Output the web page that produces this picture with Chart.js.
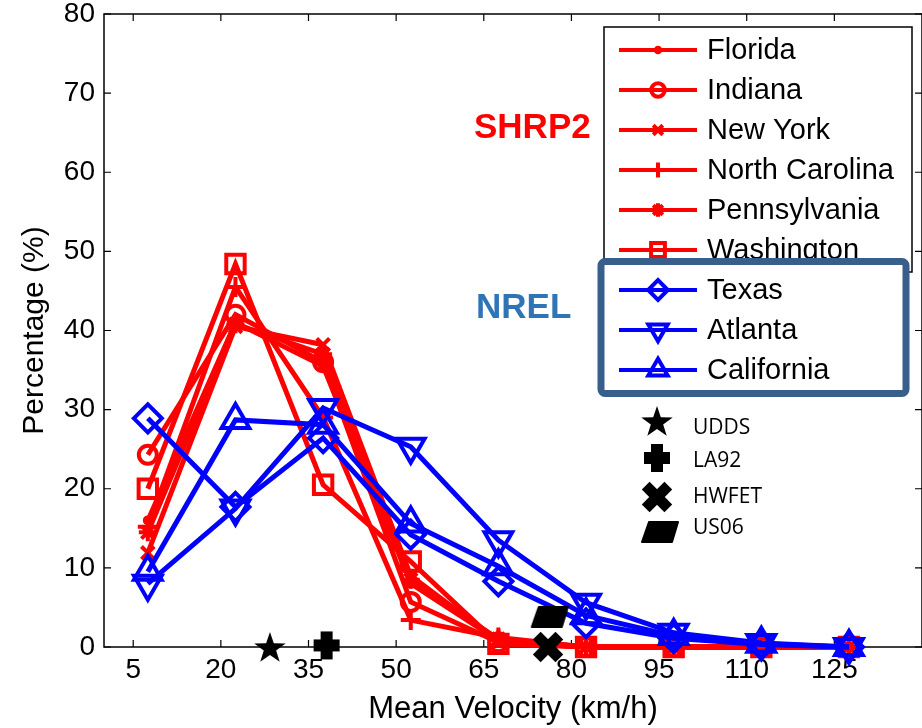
<!DOCTYPE html>
<html>
<head>
<meta charset="utf-8">
<script src="https://cdn.jsdelivr.net/npm/chart.js@4.4.0/dist/chart.umd.min.js"></script>
<style>
  body { margin: 0; background: #fff; }
</style>
</head>
<body>
<canvas id="chart" width="922" height="728"></canvas>
<script>
// bin centres of the velocity histogram (km/h)
const binCenters = [7.5, 22.5, 37.5, 52.5, 67.5, 82.5, 97.5, 112.5, 127.5];
const xTicks = [5, 20, 35, 50, 65, 80, 95, 110, 125];

// SHRP2 states (%)
const florida       = [16.0, 41.0, 35.5, 8.0, 0.8, 0, 0, 0, 0];
const indiana       = [24.3, 42.0, 36.0, 5.7, 0.6, 0, 0, 0, 0];
const newYork       = [11.9, 40.5, 38.2, 9.0, 0.7, 0, 0, 0, 0];
const northCarolina = [15.2, 45.5, 29.0, 3.4, 1.2, 0, 0, 0, 0];
const pennsylvania  = [14.5, 40.8, 37.0, 8.5, 1.0, 0, 0, 0, 0];
const washington    = [20.0, 48.4, 20.5, 10.8, 0.4, 0, 0, 0, 0];

// NREL (%)
const texas      = [28.9, 17.7, 26.4, 14.2, 8.3, 3.0, 1.1, 0.3, 0];
const atlanta    = [8.0, 17.5, 30.2, 25.3, 13.5, 5.6, 1.8, 0.5, 0];
const california = [9.5, 28.7, 28.1, 15.6, 10.2, 4.0, 1.4, 0.4, 0];

// standard drive cycles: [mean velocity, percentage]
const udds  = [28.4, 0];
const la92  = [38.1, 0.2];
const hwfet = [76.0, 0];
const us06  = [76.3, 3.8];

const RED = '#ff0000';
const BLUE = '#0000ff';

function toPoints(values) {
    return values.map((v, i) => ({ x: binCenters[i], y: v }));
}

function series(label, values, color, style, radius, rotation, order) {
    return {
        label: label,
        data: toPoints(values),
        borderColor: color,
        borderWidth: 5,
        pointStyle: style,
        pointRadius: radius,
        pointRotation: rotation || 0,
        pointBorderColor: color,
        pointBorderWidth: 4,
        pointBackgroundColor: style === 'circle' && radius < 5 ? color : 'rgba(0,0,0,0)',
        tension: 0,
        clip: false,
        order: order,
        group: color === RED ? 'shrp2' : 'nrel'
    };
}

// filled black marker shapes for the drive cycles
function makeIcon(w, h, draw) {
    const c = document.createElement('canvas');
    c.width = w; c.height = h;
    const g = c.getContext('2d');
    g.fillStyle = '#000';
    draw(g, w, h);
    return c;
}

const starIcon = makeIcon(34, 34, (g, w, h) => {
    g.beginPath();
    for (let i = 0; i < 10; i++) {
        const r = i % 2 === 0 ? 16.5 : 6.5;
        const a = -Math.PI / 2 + i * Math.PI / 5;
        const px = w / 2 + r * Math.cos(a);
        const py = h / 2 + 1.5 + r * Math.sin(a);
        if (i === 0) g.moveTo(px, py); else g.lineTo(px, py);
    }
    g.closePath();
    g.fill();
});

const plusIcon = makeIcon(28, 30, (g, w, h) => {
    g.fillRect(w / 2 - 6, 1, 12, h - 2);
    g.fillRect(1, h / 2 - 6, w - 2, 12);
});

const crossIcon = makeIcon(32, 32, (g, w, h) => {
    g.translate(w / 2, h / 2);
    g.rotate(Math.PI / 4);
    g.fillRect(-5.5, -16, 11, 32);
    g.fillRect(-16, -5.5, 32, 11);
});

const paraIcon = makeIcon(40, 22, (g) => {
    g.beginPath();
    g.moveTo(9, 1);
    g.lineTo(38, 1);
    g.lineTo(32, 21);
    g.lineTo(2, 21);
    g.closePath();
    g.lineJoin = 'round';
    g.lineWidth = 2;
    g.strokeStyle = '#000';
    g.fill();
    g.stroke();
});

function cycle(label, pt, icon) {
    return {
        label: label,
        data: [{ x: pt[0], y: pt[1] }],
        showLine: false,
        pointStyle: icon,
        pointRadius: 14,
        clip: false,
        order: 0,
        group: 'cycle'
    };
}

const datasets = [
    series('Florida', florida, RED, 'circle', 3, 0, 2),
    series('Indiana', indiana, RED, 'circle', 9, 0, 2),
    series('New York', newYork, RED, 'crossRot', 9, 0, 2),
    series('North Carolina', northCarolina, RED, 'cross', 10, 0, 2),
    series('Pennsylvania', pennsylvania, RED, 'star', 9, 0, 2),
    series('Washington', washington, RED, 'rect', 13, 0, 2),
    series('Texas', texas, BLUE, 'rectRot', 14, 0, 1),
    series('Atlanta', atlanta, BLUE, 'triangle', 16, 180, 1),
    series('California', california, BLUE, 'triangle', 16, 0, 1),
    cycle('UDDS', udds, starIcon),
    cycle('LA92', la92, plusIcon),
    cycle('HWFET', hwfet, crossIcon),
    cycle('US06', us06, paraIcon)
];

const FONT = "'Liberation Sans', Arial, sans-serif";

function legendMarker(ctx, ds, x, y, scale) {
    ctx.save();
    ctx.strokeStyle = ds.borderColor;
    ctx.fillStyle = ds.pointBackgroundColor;
    ctx.lineWidth = 4;
    ctx.beginPath();
    ctx.moveTo(x - 39, y);
    ctx.lineTo(x + 39, y);
    ctx.stroke();
    Chart.helpers.drawPoint(ctx, {
        pointStyle: ds.pointStyle,
        radius: ds.pointRadius * scale,
        rotation: ds.pointRotation,
        borderWidth: 3.5
    }, x, y);
    ctx.restore();
}

const overlay = {
    id: 'overlay',
    beforeDatasetsDraw(chart) {
        const { ctx, chartArea: a, scales } = chart;
        ctx.save();
        ctx.strokeStyle = '#000';
        ctx.lineWidth = 1.5;
        ctx.strokeRect(a.left, a.top, a.right - a.left, a.bottom - a.top);
        ctx.lineWidth = 1.2;
        ctx.beginPath();
        scales.x.ticks.forEach(t => {
            const px = scales.x.getPixelForValue(t.value);
            ctx.moveTo(px, a.bottom); ctx.lineTo(px, a.bottom - 7);
            ctx.moveTo(px, a.top); ctx.lineTo(px, a.top + 7);
        });
        scales.y.ticks.forEach(t => {
            const py = scales.y.getPixelForValue(t.value);
            ctx.moveTo(a.left, py); ctx.lineTo(a.left + 7, py);
            ctx.moveTo(a.right, py); ctx.lineTo(a.right - 7, py);
        });
        ctx.stroke();
        ctx.restore();
    },
    afterDatasetsDraw(chart) {
        const ctx = chart.ctx;
        const sets = chart.data.datasets;
        const red = sets.filter(d => d.group === 'shrp2');
        const blue = sets.filter(d => d.group === 'nrel');
        const cycles = sets.filter(d => d.group === 'cycle');
        ctx.save();

        // SHRP2 legend box
        ctx.fillStyle = '#fff';
        ctx.fillRect(604, 27, 308, 245);
        ctx.strokeStyle = '#000';
        ctx.lineWidth = 1.5;
        ctx.strokeRect(604, 27, 308, 245);
        ctx.font = '29px ' + FONT;
        ctx.textBaseline = 'middle';
        red.forEach((ds, i) => {
            const y = 50 + 40 * i;
            legendMarker(ctx, ds, 658, y, 0.75);
            ctx.fillStyle = '#000';
            ctx.fillText(ds.label, 707, y + 1);
        });

        // NREL legend box
        ctx.fillStyle = '#fff';
        ctx.beginPath();
        ctx.roundRect(601, 261.5, 305, 132, 4);
        ctx.fill();
        ctx.strokeStyle = '#3a5e8c';
        ctx.lineWidth = 7;
        ctx.stroke();
        blue.forEach((ds, i) => {
            const y = 290 + 40 * i;
            legendMarker(ctx, ds, 658, y, 0.7);
            ctx.fillStyle = '#000';
            ctx.fillText(ds.label, 707, y + 1);
        });

        // drive cycle legend
        ctx.font = "21px 'Open Sans', sans-serif";
        const rows = [[657, 421, 428], [657, 458, 461], [657, 497, 497], [660, 532, 528]];
        cycles.forEach((ds, i) => {
            const [mx, my, ty] = rows[i];
            const img = ds.pointStyle;
            ctx.drawImage(img, mx - img.width / 2, my - img.height / 2);
            ctx.fillStyle = '#000';
            ctx.fillText(ds.label, 693, ty);
        });

        // group labels
        ctx.font = 'bold 35px ' + FONT;
        ctx.fillStyle = '#ff0000';
        ctx.fillText('SHRP2', 474, 128);
        ctx.fillStyle = '#2e75b6';
        ctx.fillText('NREL', 476, 308);
        ctx.restore();
    }
};

new Chart(document.getElementById('chart'), {
    type: 'line',
    data: { datasets: datasets },
    options: {
        responsive: false,
        animation: false,
        devicePixelRatio: 1,
        layout: { autoPadding: false, padding: { top: 14, right: 0, left: 0, bottom: 0 } },
        plugins: {
            legend: { display: false },
            tooltip: { enabled: false }
        },
        scales: {
            x: {
                type: 'linear',
                min: 0,
                max: 140,
                grid: { display: false, drawTicks: false },
                border: { display: false },
                afterBuildTicks: scale => {
                    scale.ticks = xTicks.map(v => ({ value: v }));
                },
                afterFit: scale => {
                    scale.height = 81;
                    scale.paddingLeft = 0;
                    scale.paddingRight = 0;
                },
                ticks: {
                    color: '#000',
                    padding: 6,
                    maxRotation: 0,
                    autoSkip: false,
                    font: { family: FONT, size: 28 }
                },
                title: {
                    display: true,
                    text: 'Mean Velocity (km/h)',
                    color: '#000',
                    padding: { top: 0, bottom: 0 },
                    font: { family: FONT, size: 31 }
                }
            },
            y: {
                min: 0,
                max: 80,
                grid: { display: false, drawTicks: false },
                border: { display: false },
                afterFit: scale => {
                    scale.width = 104;
                    scale.paddingTop = 0;
                    scale.paddingBottom = 0;
                },
                ticks: {
                    stepSize: 10,
                    color: '#000',
                    padding: 9,
                    font: { family: FONT, size: 28 }
                },
                title: {
                    display: true,
                    text: 'Percentage (%)',
                    color: '#000',
                    padding: { top: 17, bottom: 0 },
                    font: { family: FONT, size: 30 }
                }
            }
        }
    },
    plugins: [overlay]
});
</script>
</body>
</html>
